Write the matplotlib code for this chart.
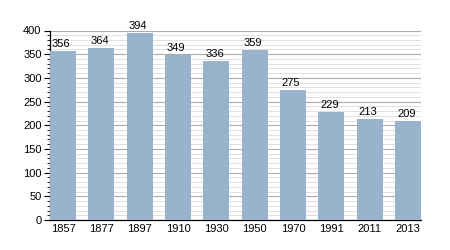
import matplotlib
matplotlib.use('Agg')
from matplotlib import pyplot as plt
from matplotlib.ticker import MultipleLocator

years = ['1857', '1877', '1897', '1910', '1930', '1950', '1970', '1991', '2011', '2013']
population = [356, 364, 394, 349, 336, 359, 275, 229, 213, 209]

plt.rcParams['font.family'] = ['Liberation Sans', 'DejaVu Sans']

fig = plt.figure(figsize=(4.5, 2.5), dpi=100)
ax = fig.add_axes([0.111, 0.12, 0.825, 0.758])

x = range(len(years))
bars = ax.bar(x, population, width=0.68, color='#9ab3cd', zorder=3)

# valeurs au-dessus des barres
for xi, v in zip(x, population):
    ax.text(xi - 0.05, v + 4, str(v), ha='center', va='bottom', fontsize=8, zorder=4)

ax.set_xlim(-0.34, len(years) - 1 + 0.34)
ax.set_ylim(0, 400)
ax.set_xticks(list(x))
ax.set_xticklabels(years)
ax.yaxis.set_major_locator(MultipleLocator(50))
ax.yaxis.set_minor_locator(MultipleLocator(10))

ax.grid(which='major', axis='y', color='#ababab', linewidth=0.8, zorder=1)
ax.grid(which='minor', axis='y', color='#e0e0e0', linewidth=0.7, zorder=0)

for s in ['top', 'right']:
    ax.spines[s].set_visible(False)
ax.spines['left'].set_linewidth(0.9)
ax.spines['bottom'].set_linewidth(0.9)

ax.tick_params(axis='y', which='major', length=4, width=0.8, labelsize=8, pad=2)
ax.tick_params(axis='y', which='minor', length=2, width=0.6)
ax.tick_params(axis='x', length=0, labelsize=8, pad=3)

fig.savefig('out.png', dpi=100)
